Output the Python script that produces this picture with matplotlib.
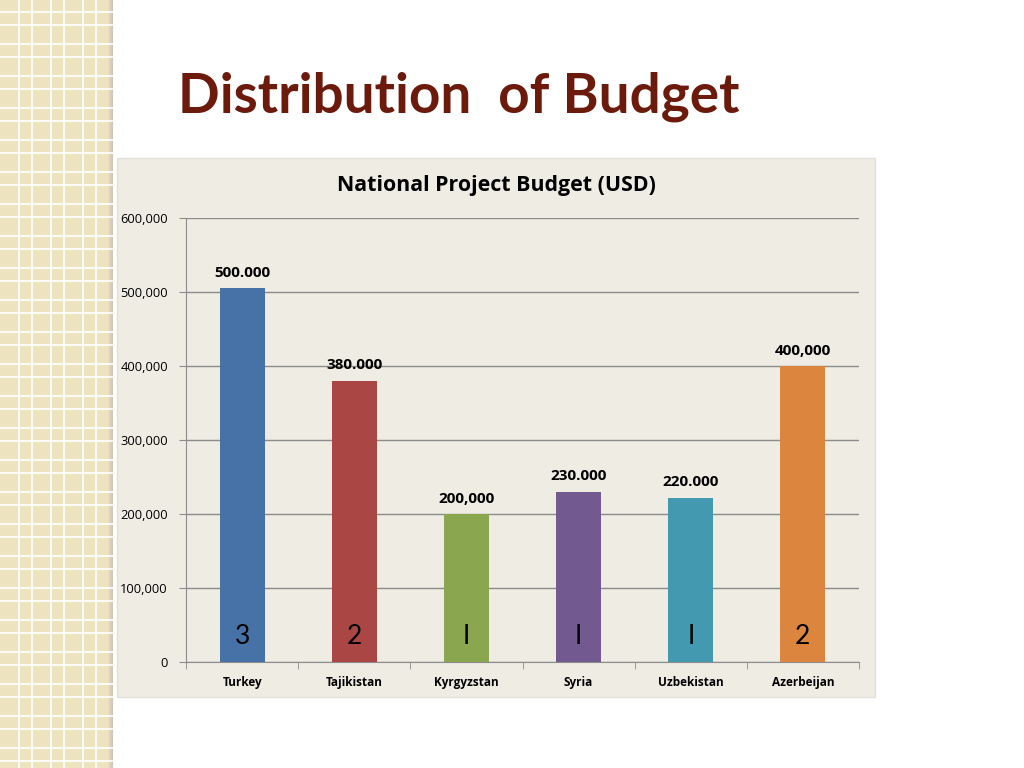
import numpy as np
import matplotlib.pyplot as plt
from matplotlib.patches import Rectangle

countries = ['Turkey', 'Tajikistan', 'Kyrgyzstan', 'Syria', 'Uzbekistan', 'Azerbeijan']
budget = [505000, 380000, 200000, 230000, 222000, 400000]
value_labels = ['500.000', '380.000', '200,000', '230.000', '220.000', '400,000']
counts = ['3', '2', 'I', 'I', 'I', '2']
colors = ['#4672A8', '#AA4744', '#8AA64F', '#72598F', '#4299B0', '#DB853E']

W, H = 1024, 768
fig = plt.figure(figsize=(W / 100, H / 100), dpi=100)
fig.patch.set_facecolor('white')

# decorative strip on the left
strip = fig.add_axes([0, 0, 113 / W, 1])
strip.set_xlim(0, 113)
strip.set_ylim(H, 0)
strip.axis('off')
strip.add_patch(Rectangle((0, 0), 108, H, color='#EEE3BF', lw=0))
for x0 in np.arange(19, 108, 32):
    strip.axvline(x0, color='white', lw=1.2)
    strip.axvline(x0 + 13, color='white', lw=1.2)
for y0 in np.arange(12, H, 32):
    strip.axhline(y0, color='white', lw=1.2)
    strip.axhline(y0 + 13, color='white', lw=1.2)
shade = np.linspace(0, 1, 6)
for i, s in enumerate(shade):
    c = (0.93 - 0.12 * s, 0.89 - 0.12 * s, 0.76 - 0.05 * s)
    strip.add_patch(Rectangle((107 + i, 0), 1, H, color=c, lw=0))

# slide title
fig.text(178 / W, 1 - 112 / H, 'Distribution  of Budget', fontsize=39.5,
         fontweight='bold', family='Lato', color='#6B1A0C', va='baseline')

# chart panel
fig.patches.append(Rectangle((117 / W, 1 - 697 / H), 758 / W, 539 / H,
                             transform=fig.transFigure, facecolor='#EEECE3',
                             edgecolor='#E2E0D8', lw=1, zorder=-1))

ax = fig.add_axes([186 / W, 1 - 662 / H, 673 / W, 444 / H])
ax.set_facecolor('none')
x = np.arange(len(countries))
ax.bar(x, budget, width=0.4, color=colors, zorder=3)
ax.set_xlim(-0.5, len(countries) - 0.5)
ax.set_ylim(0, 600000)
ax.set_yticks(np.arange(0, 600001, 100000))
ax.set_yticklabels([f'{v:,}' for v in range(0, 600001, 100000)],
                   fontsize=9.3, family='Open Sans')
ax.set_xticks(x)
ax.set_xticklabels(countries, fontsize=8.5, fontweight='bold', family='Open Sans')
ax.set_xticks(np.arange(-0.5, len(countries)), minor=True)
ax.tick_params(axis='x', which='major', length=0, pad=10)
ax.tick_params(axis='x', which='minor', length=5, color='#8C8C8C', direction='out')
ax.tick_params(axis='y', length=5, color='#8C8C8C', pad=8)
ax.grid(axis='y', color='#8C8C8C', lw=1, zorder=1)
for s in ['top', 'right']:
    ax.spines[s].set_visible(False)
for s in ['left', 'bottom']:
    ax.spines[s].set_color('#8C8C8C')

for xi, v, lab, cnt in zip(x, budget, value_labels, counts):
    ax.annotate(lab, (xi, v), xytext=(0, 6), textcoords='offset points',
                ha='center', va='bottom', fontsize=11, fontweight='bold',
                family='Open Sans', zorder=4)
    ax.text(xi, 35000, cnt, ha='center', va='center', fontsize=19,
            family='Lato', zorder=4)

fig.text(496 / W, 1 - 186 / H, 'National Project Budget (USD)', ha='center',
         va='center', fontsize=15.4, fontweight='bold', family='Open Sans')

fig.savefig('out.png', dpi=100)
